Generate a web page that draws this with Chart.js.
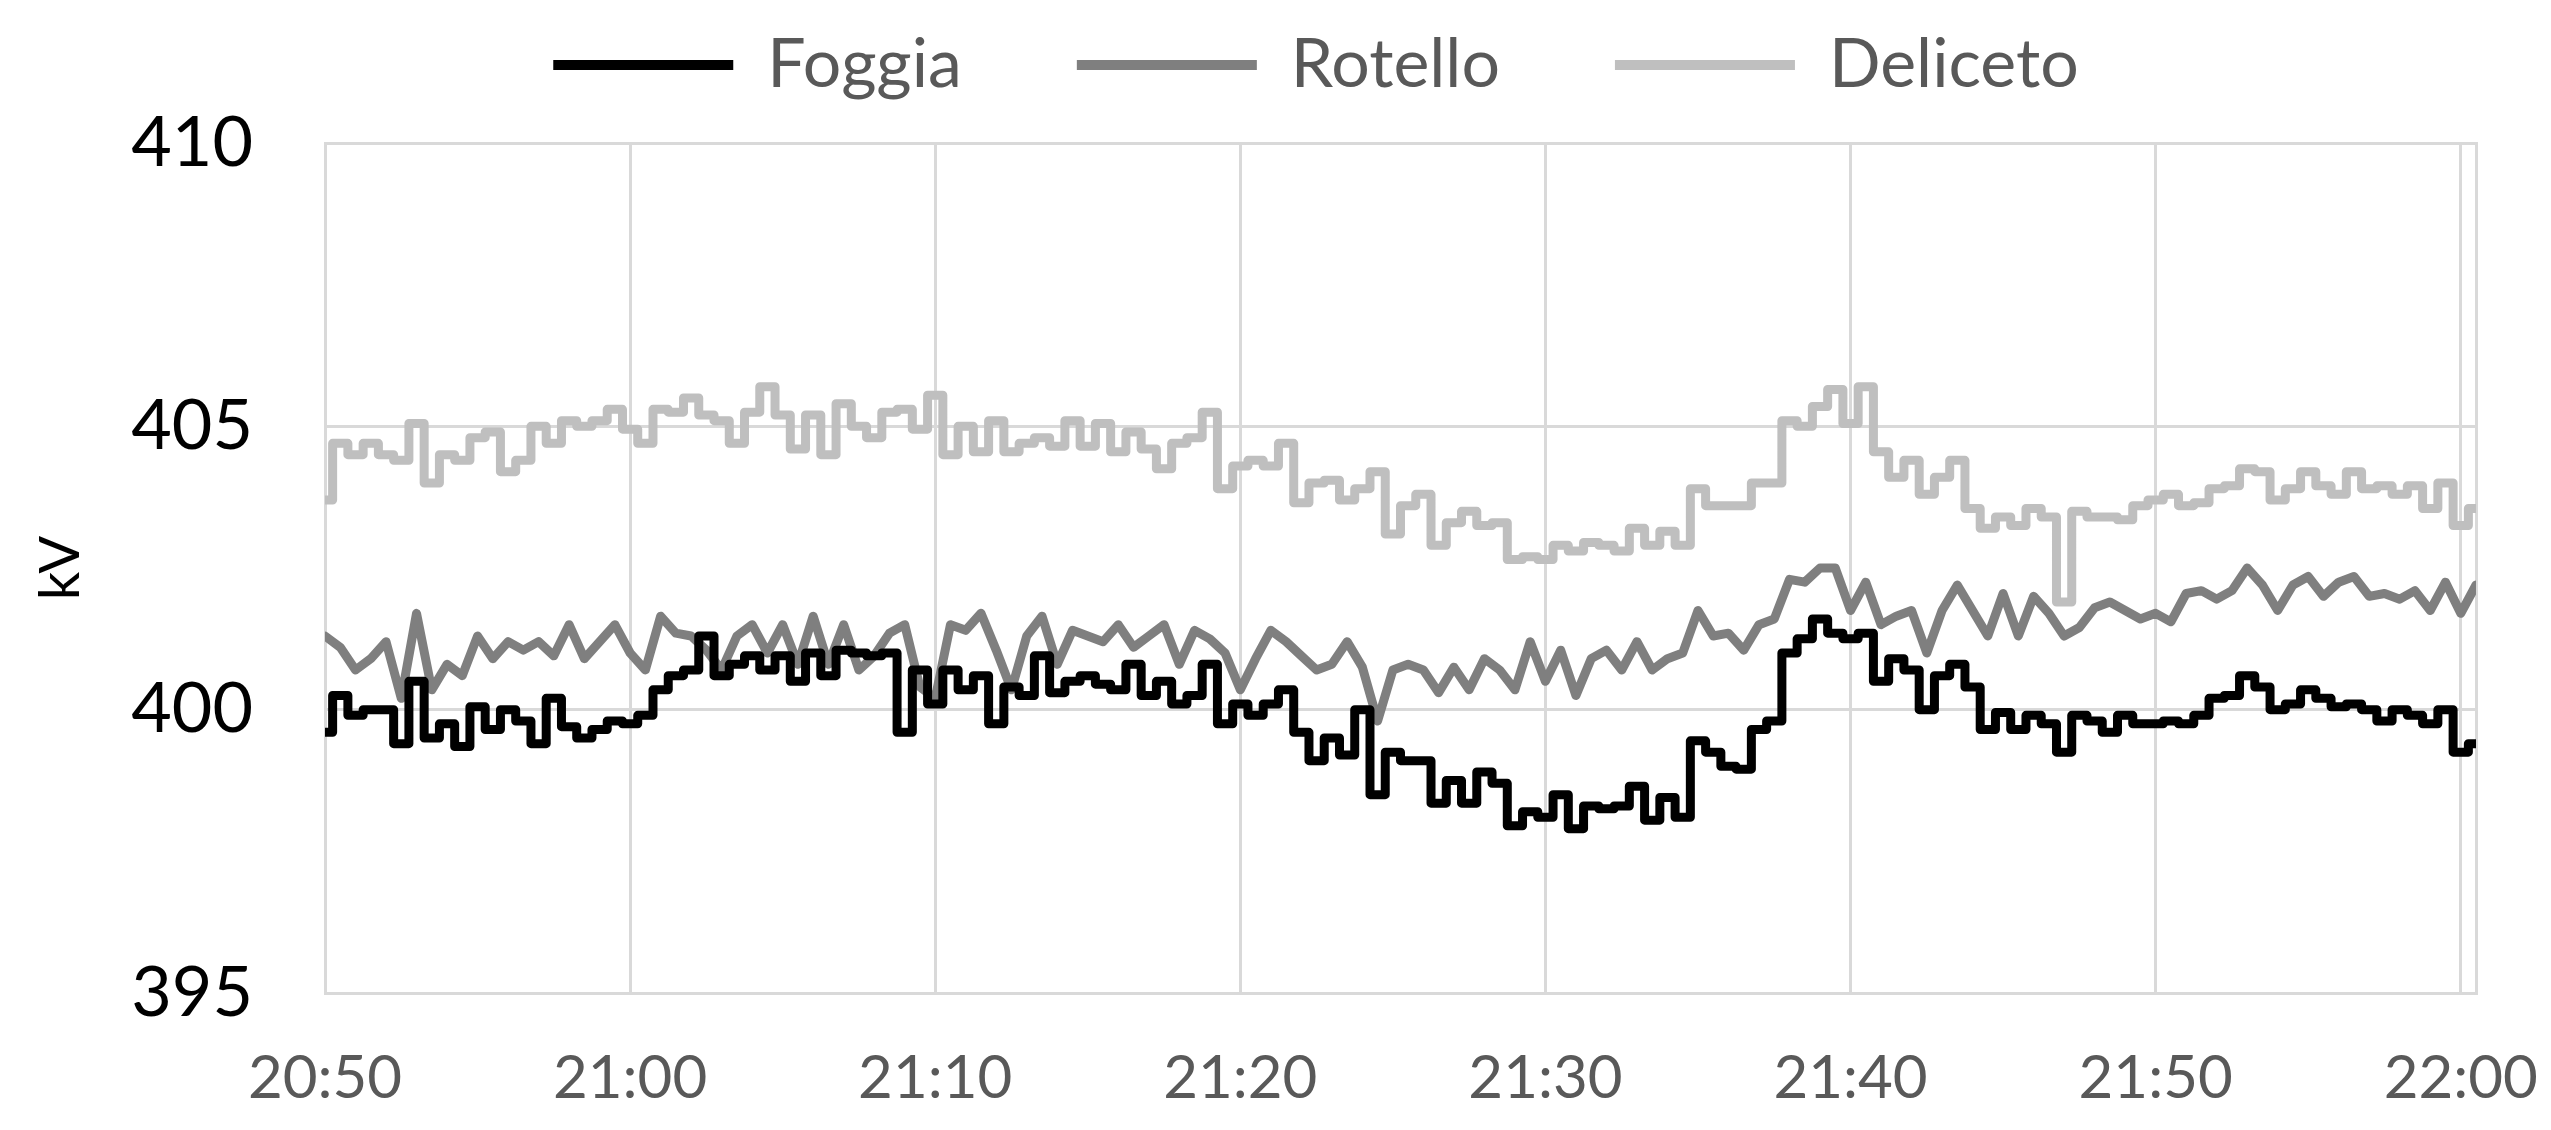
<!DOCTYPE html>
<html>
<head>
<meta charset="utf-8">
<script src="https://cdn.jsdelivr.net/npm/chart.js@4.4.0/dist/chart.umd.min.js"></script>
<style>
  html, body { margin: 0; padding: 0; background: #fff; }
  canvas { display: block; }
</style>
</head>
<body>
<canvas id="voltage-chart" width="2551" height="1130"></canvas>
<script>
const timeLabels = ['20:50', '21:00', '21:10', '21:20', '21:30', '21:40', '21:50', '22:00'];
const stations = ['Foggia', 'Rotello', 'Deliceto'];
const colors = ['#000000', '#7f7f7f', '#bfbfbf'];
const stepStyle = ['middle', false, 'middle'];

// one sample every 30 s, minutes after 20:50
const minutes = Array.from({ length: 142 }, (_, i) => i * 0.5);

const foggia = [
  399.6, 400.25, 399.9, 400.0, 400.0, 399.4, 400.5, 399.5, 399.75, 399.35, 400.05, 399.65,
  400.0, 399.8, 399.4, 400.2, 399.7, 399.5, 399.65, 399.8, 399.75, 399.9, 400.35, 400.6,
  400.7, 401.3, 400.6, 400.8, 400.95, 400.7, 400.95, 400.5, 401.0, 400.6, 401.05, 401.0,
  400.95, 401.0, 399.6, 400.7, 400.1, 400.7, 400.35, 400.6, 399.75, 400.4, 400.25, 400.95,
  400.3, 400.5, 400.6, 400.45, 400.35, 400.8, 400.25, 400.5, 400.1, 400.25, 400.8, 399.75,
  400.1, 399.9, 400.1, 400.35, 399.6, 399.1, 399.5, 399.2, 400.0, 398.5, 399.25, 399.1,
  399.1, 398.35, 398.75, 398.35, 398.9, 398.7, 397.95, 398.2, 398.1, 398.5, 397.9, 398.3,
  398.25, 398.3, 398.65, 398.05, 398.45, 398.1, 399.45, 399.25, 399.0, 398.95, 399.65, 399.8,
  401.0, 401.25, 401.6, 401.35, 401.25, 401.35, 400.5, 400.9, 400.7, 400.0, 400.6, 400.8,
  400.4, 399.65, 399.95, 399.65, 399.9, 399.75, 399.25, 399.9, 399.8, 399.6, 399.9, 399.75,
  399.75, 399.8, 399.75, 399.9, 400.2, 400.25, 400.6, 400.4, 400.0, 400.1, 400.35, 400.2,
  400.05, 400.1, 400.0, 399.8, 400.0, 399.9, 399.75, 400.0, 399.25, 399.4
];

const rotello = [
  401.3, 401.1, 400.7, 400.9, 401.2, 400.2, 401.7, 400.35, 400.8, 400.6, 401.3, 400.9,
  401.2, 401.05, 401.2, 400.95, 401.5, 400.9, 401.2, 401.5, 401.0, 400.7, 401.65, 401.35,
  401.3, 401.05, 400.7, 401.3, 401.5, 401.0, 401.5, 400.8, 401.65, 400.8, 401.5, 400.7,
  400.95, 401.35, 401.5, 400.4, 400.2, 401.5, 401.4, 401.7, 401.05, 400.35, 401.3, 401.65,
  400.8, 401.4, 401.3, 401.2, 401.5, 401.1, 401.3, 401.5, 400.8, 401.4, 401.25, 401.0,
  400.35, 400.9, 401.4, 401.2, 400.95, 400.7, 400.8, 401.2, 400.75, 399.8, 400.7, 400.8,
  400.7, 400.3, 400.75, 400.35, 400.9, 400.7, 400.35, 401.2, 400.5, 401.05, 400.25, 400.9,
  401.05, 400.7, 401.2, 400.7, 400.9, 401.0, 401.75, 401.3, 401.35, 401.05, 401.5, 401.6,
  402.3, 402.25, 402.5, 402.5, 401.75, 402.25, 401.5, 401.65, 401.75, 401.0, 401.75, 402.2,
  401.75, 401.3, 402.05, 401.3, 402.0, 401.7, 401.3, 401.45, 401.8, 401.9, 401.75, 401.6,
  401.7, 401.55, 402.05, 402.1, 401.95, 402.1, 402.5, 402.2, 401.75, 402.2, 402.35, 402.0,
  402.25, 402.35, 402.0, 402.05, 401.95, 402.1, 401.75, 402.25, 401.7, 402.2
];

const deliceto = [
  403.7, 404.7, 404.5, 404.7, 404.5, 404.4, 405.05, 404.0, 404.5, 404.4, 404.8, 404.9,
  404.2, 404.4, 405.0, 404.7, 405.1, 405.0, 405.1, 405.3, 404.95, 404.7, 405.3, 405.25,
  405.5, 405.2, 405.1, 404.7, 405.25, 405.7, 405.2, 404.6, 405.2, 404.5, 405.4, 405.0,
  404.8, 405.25, 405.3, 404.95, 405.55, 404.5, 405.0, 404.55, 405.1, 404.55, 404.7, 404.8,
  404.65, 405.1, 404.65, 405.05, 404.55, 404.9, 404.6, 404.25, 404.7, 404.8, 405.25, 403.9,
  404.3, 404.4, 404.3, 404.7, 403.65, 404.0, 404.05, 403.7, 403.9, 404.2, 403.1, 403.6,
  403.8, 402.9, 403.3, 403.5, 403.25, 403.3, 402.65, 402.7, 402.65, 402.9, 402.8, 402.95,
  402.9, 402.8, 403.2, 402.9, 403.15, 402.9, 403.9, 403.6, 403.6, 403.6, 404.0, 404.0,
  405.1, 405.0, 405.35, 405.65, 405.05, 405.7, 404.55, 404.1, 404.4, 403.8, 404.1, 404.4,
  403.55, 403.2, 403.4, 403.25, 403.55, 403.4, 401.9, 403.5, 403.4, 403.4, 403.35, 403.6,
  403.7, 403.8, 403.6, 403.65, 403.9, 403.95, 404.25, 404.2, 403.7, 403.9, 404.2, 403.95,
  403.8, 404.2, 403.9, 403.95, 403.8, 403.95, 403.55, 404.0, 403.25, 403.55
];

const FONT = "Lato, 'Open Sans', sans-serif";
const GRID = '#d9d9d9';

const toPoints = (values) => values.map((v, i) => ({ x: minutes[i], y: v }));

// push the plot down a bit below the legend row
const legendGap = {
  id: 'legendGap',
  beforeLayout(chart) {
    const legend = chart.legend;
    if (!legend || legend._gapPatched) return;
    const fit = legend.fit;
    legend.fit = function () {
      fit.call(this);
      this.height += 34;
    };
    legend._gapPatched = true;
  }
};

const ctx = document.getElementById('voltage-chart').getContext('2d');

new Chart(ctx, {
  type: 'line',
  data: {
    datasets: [foggia, rotello, deliceto].map((values, i) => ({
      label: stations[i],
      data: toPoints(values),
      borderColor: colors[i],
      backgroundColor: colors[i],
      borderWidth: 9,
      borderJoinStyle: 'round',
      borderCapStyle: 'round',
      stepped: stepStyle[i],
      pointRadius: 0
    }))
  },
  options: {
    responsive: false,
    animation: false,
    devicePixelRatio: 1,
    layout: {
      padding: { top: -84, left: 81, right: 0, bottom: 0 }
    },
    plugins: {
      tooltip: { enabled: false },
      legend: {
        position: 'top',
        labels: {
          usePointStyle: true,
          pointStyle: 'line',
          pointStyleWidth: 180,
          padding: 115,
          color: '#595959',
          font: { family: FONT, size: 68 },
          generateLabels: (chart) =>
            Chart.defaults.plugins.legend.labels.generateLabels(chart)
              .map(item => ({ ...item, lineWidth: 10 }))
        }
      }
    },
    scales: {
      x: {
        type: 'linear',
        min: 0,
        max: 70.5,
        afterFit: (scale) => { scale.height = 137; },
        ticks: {
          stepSize: 10,
          includeBounds: false,
          autoSkip: false,
          maxRotation: 0,
          padding: 3,
          color: '#595959',
          font: { family: FONT, size: 60 },
          callback: (value) => timeLabels[value / 10] ?? ''
        },
        grid: {
          color: GRID,
          lineWidth: 3,
          drawTicks: true,
          tickLength: 47,
          tickColor: 'rgba(0,0,0,0)'
        },
        border: { color: GRID, width: 3 }
      },
      y: {
        min: 395,
        max: 410,
        afterFit: (scale) => { scale.width = 244; },
        ticks: {
          stepSize: 5,
          padding: 72,
          color: '#000000',
          font: { family: FONT, size: 70 }
        },
        grid: { color: GRID, lineWidth: 3, drawTicks: false },
        border: { color: GRID, width: 3 },
        title: {
          display: true,
          text: 'kV',
          color: '#000000',
          font: { family: FONT, size: 56 },
          padding: { top: -54 }
        }
      },
      yRight: {
        position: 'right',
        min: 395,
        max: 410,
        afterFit: (scale) => { scale.width = 75; },
        ticks: { display: false },
        grid: { display: false, drawTicks: false },
        border: { color: GRID, width: 3 }
      }
    }
  },
  plugins: [legendGap]
});
</script>
</body>
</html>
